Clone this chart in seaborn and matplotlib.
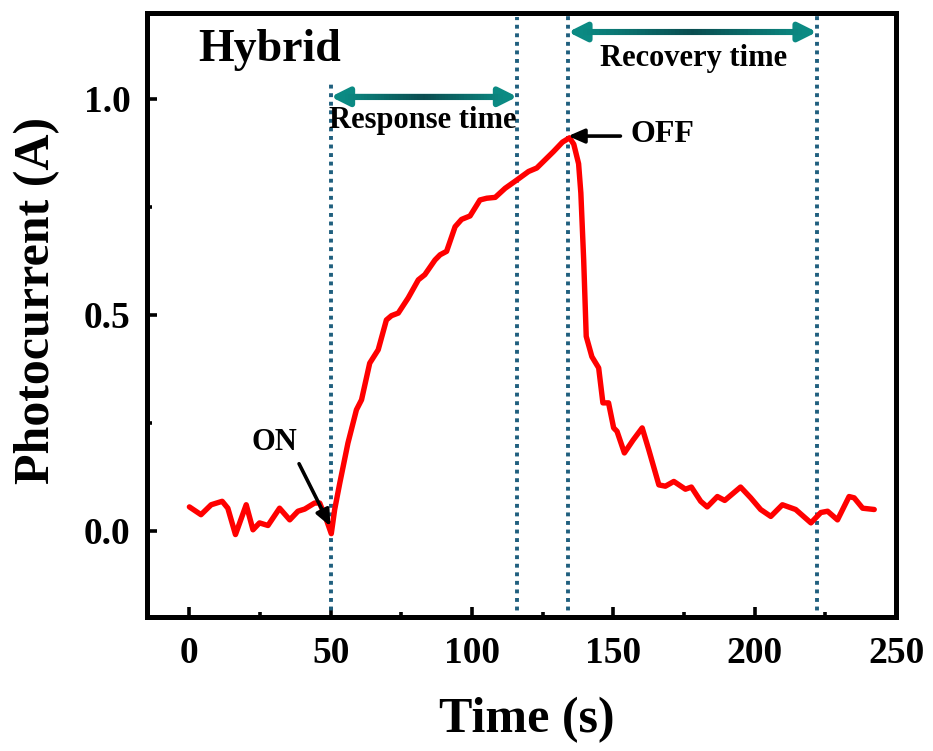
import numpy as np
import pandas as pd
import matplotlib
matplotlib.use("Agg")
import matplotlib.pyplot as plt
import seaborn as sns
from matplotlib.collections import LineCollection
from matplotlib.colors import LinearSegmentedColormap

# ---- data ----
time_s = [0, 4.1, 7.7, 11.6, 13.6, 16.3, 20.1, 22.5, 24.8, 27.8, 31.9, 35.5, 38.4,
          40.8, 44.3, 46.1, 48.5, 50.2, 51.4, 53.2, 56.1, 59.1, 60.9, 63.8, 66.8,
          69.7, 71.5, 73.9, 77.4, 81.0, 83.3, 86.9, 88.7, 91.0, 94.0, 96.3, 99.3,
          102.8, 105.2, 108.2, 111.7, 115.8, 120.0, 122.9, 128.8, 132.0, 134.5,
          136.0, 137.7, 138.5, 139.5, 140.4, 142.4, 144.8, 146.3, 148.3, 150.1,
          151.3, 153.9, 157.0, 160.2, 162.5, 166.1, 168.4, 171.4, 175.5, 177.6,
          180.9, 183.2, 186.8, 189.4, 195.0, 198.6, 202.1, 205.7, 209.8, 214.5,
          219.9, 223.4, 225.8, 229.3, 233.4, 235.2, 238.2, 242.3]
photocurrent = [0.055, 0.037, 0.060, 0.068, 0.052, -0.009, 0.060, 0.002, 0.018, 0.012,
                0.052, 0.025, 0.045, 0.050, 0.064, 0.064, 0.025, -0.007, 0.049, 0.110,
                0.203, 0.280, 0.303, 0.388, 0.419, 0.488, 0.498, 0.504, 0.539, 0.581,
                0.593, 0.627, 0.639, 0.647, 0.704, 0.721, 0.729, 0.766, 0.770, 0.772,
                0.793, 0.812, 0.832, 0.840, 0.878, 0.900, 0.910, 0.895, 0.850, 0.782,
                0.627, 0.450, 0.403, 0.377, 0.296, 0.296, 0.238, 0.230, 0.180, 0.210,
                0.238, 0.188, 0.106, 0.103, 0.114, 0.096, 0.101, 0.068, 0.055, 0.079,
                0.070, 0.101, 0.076, 0.049, 0.033, 0.060, 0.049, 0.018, 0.042, 0.045,
                0.025, 0.079, 0.076, 0.052, 0.049]

event_times = [50, 116, 134, 222]          # dotted marker lines (s)
event_tops = [1.037, 1.19, 1.195, 1.2]     # upper ends of the dotted lines
response_span = [50, 116]
recovery_span = [134, 222]
x_ticks = [0, 50, 100, 150, 200, 250]
y_ticks = [0.0, 0.5, 1.0]
y_tick_labels = ["0.0", "0.5", "1.0"]

df = pd.DataFrame({"Time (s)": time_s, "Photocurrent (A)": photocurrent})

sns.set_theme(style="white")
plt.rcParams["font.family"] = ["Liberation Serif", "DejaVu Serif"]
plt.rcParams["font.weight"] = "bold"
plt.rcParams["text.color"] = "black"
plt.rcParams["axes.labelcolor"] = "black"
plt.rcParams["xtick.color"] = "black"
plt.rcParams["ytick.color"] = "black"

W, H = 933, 751
fig = plt.figure(figsize=(W / 100, H / 100), dpi=100)
fig.patch.set_facecolor("white")
ax = fig.add_axes([147 / W, 1 - 617 / H, (896 - 147) / W, (617 - 12.6) / H])
ax.set_facecolor("white")

sns.lineplot(data=df, x="Time (s)", y="Photocurrent (A)", ax=ax, color="#ff0000",
             lw=3.9, estimator=None, sort=False, zorder=3)
for ln in ax.get_lines():
    ln.set_solid_joinstyle("round")
    ln.set_solid_capstyle("round")

ax.set_xlim(-15, 250)
ax.set_ylim(-0.2, 1.2)

# dotted event lines
dot_color = "#1f5f7e"
for t, top in zip(event_times, event_tops):
    ax.plot([t, t], [-0.205, top], color=dot_color, lw=2.8,
            linestyle=(0, (1.0, 1.2)), dash_capstyle="butt", zorder=2)

# double arrows with gradient shafts
cmap = LinearSegmentedColormap.from_list("tg", ["#0b8a83", "#0a4d50", "#0b8a83"])
def span_arrow(x0, x1, y):
    ax.annotate("", xy=(x1, y), xytext=(x0, y),
                arrowprops=dict(arrowstyle="<|-|>,head_length=0.9,head_width=0.45",
                                color="#0b8a83", lw=4.2, shrinkA=0, shrinkB=0),
                zorder=4)
    xs = np.linspace(x0 + 4, x1 - 4, 60)
    segs = [[(xs[i], y), (xs[i + 1], y)] for i in range(len(xs) - 1)]
    lc = LineCollection(segs, colors=cmap(np.linspace(0, 1, len(segs))), lw=4.4,
                        capstyle="butt", zorder=5)
    ax.add_collection(lc)

span_arrow(response_span[0], response_span[1], 1.005)
span_arrow(recovery_span[0], recovery_span[1], 1.155)

ax.text(82.6, 0.949, "Response time", fontsize=22, fontweight="bold",
        ha="center", va="center", zorder=6, color="black")
ax.text(178.4, 1.093, "Recovery time", fontsize=22, fontweight="bold",
        ha="center", va="center", zorder=6, color="black")
ax.text(28.4, 1.113, "Hybrid", fontsize=33, fontweight="bold",
        ha="center", va="center", zorder=6, color="black")

# ON / OFF annotations
ax.annotate("", xy=(49.9, 0.01), xytext=(38.8, 0.155),
            arrowprops=dict(arrowstyle="-|>,head_length=0.8,head_width=0.35",
                            color="black", lw=2.6, shrinkA=0, shrinkB=0), zorder=6)
ax.text(30.1, 0.204, "ON", fontsize=22, fontweight="bold", ha="center", va="center",
        color="black")
ax.annotate("", xy=(134.0, 0.914), xytext=(152.5, 0.914),
            arrowprops=dict(arrowstyle="-|>,head_length=0.8,head_width=0.35",
                            color="black", lw=2.6, shrinkA=0, shrinkB=0), zorder=6)
ax.text(167.4, 0.917, "OFF", fontsize=23, fontweight="bold", ha="center", va="center",
        color="black")

# axes styling
for s in ax.spines.values():
    s.set_linewidth(3.6)
    s.set_color("black")

ax.set_xticks(x_ticks)
ax.set_xticks([25, 75, 125, 175, 225], minor=True)
ax.set_yticks(y_ticks)
ax.set_yticklabels(y_tick_labels)
ax.set_yticks([0.25, 0.75], minor=True)
ax.tick_params(which="major", direction="in", length=7, width=2.6, colors="black",
               labelsize=27, top=False, right=False, bottom=True, left=True)
ax.tick_params(axis="x", which="major", pad=14)
ax.tick_params(axis="y", which="major", pad=12)
ax.tick_params(which="minor", direction="in", length=3.8, width=2.6, colors="black",
               top=False, right=False, bottom=True, left=True)
for lab in ax.get_xticklabels() + ax.get_yticklabels():
    lab.set_fontweight("bold")
    lab.set_color("black")

ax.set_xlabel("Time (s)", fontsize=36, fontweight="bold", color="black")
ax.set_ylabel("Photocurrent (A)", fontsize=36, fontweight="bold", color="black")
ax.xaxis.set_label_coords((527 - 147) / 749, (617 - 720) / 604.4)
ax.xaxis.label.set_va("center")
ax.yaxis.set_label_coords((37 - 147) / 749, (617 - 300) / 604.4)
ax.yaxis.label.set_va("center")

fig.savefig("out.png", dpi=100, facecolor="white")
